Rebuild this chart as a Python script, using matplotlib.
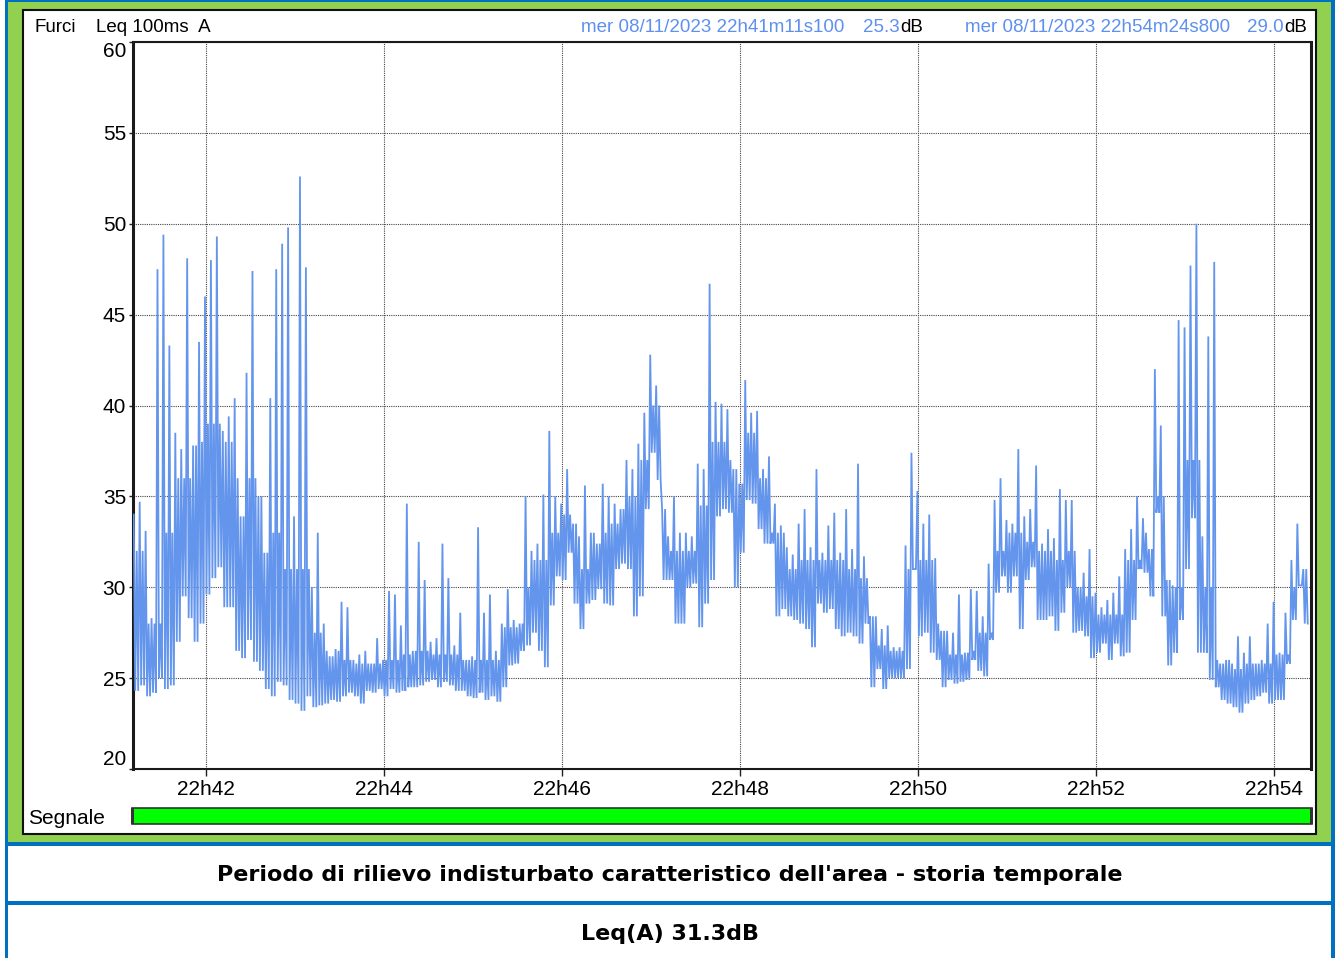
import matplotlib
matplotlib.use("Agg")
import matplotlib.pyplot as plt
from matplotlib.patches import Rectangle
import numpy as np

# ---- data: 4-second envelope bins of the Leq 100ms (A) record, dB ----
bin_seconds = 4.0
start_min = 41 + 11.1 / 60          # 22h41m11s100
end_min = 54 + 24.8 / 60            # 22h54m24s800

# per-bin maximum (peaks / spikes)
lev_hi = [
    34.0, 34.7, 33.1, 28.3, 47.5, 49.4, 43.3, 38.5, 37.6, 48.1,
    37.8, 43.5, 46.0, 48.0, 49.3, 38.6, 39.4, 40.4, 33.9, 41.8,
    47.4, 35.0, 31.9, 40.4, 47.5, 48.9, 49.8, 33.9, 52.6, 47.6,
    30.0, 33.0, 28.0, 26.2, 26.6, 29.2, 28.9, 26.0, 26.3, 26.5,
    25.8, 27.2, 26.0, 29.8, 29.6, 27.9, 34.6, 26.5, 32.5, 30.4,
    27.0, 27.2, 32.4, 30.5, 26.8, 28.6, 26.0, 26.2, 33.3, 28.6,
    29.6, 26.5, 28.0, 29.9, 28.2, 28.0, 35.0, 32.0, 32.4, 35.1,
    38.6, 35.0, 34.6, 36.5, 33.5, 32.8, 35.6, 33.0, 32.4, 35.7,
    35.0, 34.6, 34.3, 37.0, 36.5, 37.9, 39.6, 42.8, 41.1, 34.3,
    32.8, 35.0, 33.0, 33.0, 32.8, 36.8, 36.5, 46.7, 40.2, 40.1,
    39.8, 36.5, 35.7, 41.4, 39.6, 39.7, 36.5, 37.2, 34.6, 33.4,
    32.2, 31.8, 33.5, 34.3, 32.2, 36.5, 31.9, 33.4, 34.1, 31.9,
    34.3, 32.1, 36.8, 31.7, 28.4, 28.4, 27.7, 27.9, 26.7, 26.7,
    32.3, 37.4, 35.3, 33.5, 34.0, 31.6, 27.6, 27.6, 27.5, 29.6,
    26.4, 29.9, 29.8, 28.4, 31.3, 34.8, 36.0, 33.7, 33.5, 37.6,
    33.9, 34.3, 36.7, 32.4, 33.2, 32.7, 35.4, 34.8, 34.8, 30.0,
    30.8, 32.1, 29.7, 28.9, 29.3, 29.7, 30.6, 32.1, 33.2, 35.0,
    33.8, 32.1, 42.0, 38.9, 30.4, 30.1, 44.7, 44.3, 47.7, 50.0,
    32.8, 43.8, 47.9, 25.8, 26.0, 25.8, 27.3, 26.4, 27.3, 25.8,
    26.0, 28.0, 29.2, 26.4, 28.6, 31.5, 33.5, 31.0,
]
# per-bin minimum
lev_lo = [
    24.3, 24.6, 24.0, 24.2, 25.0, 24.4, 24.6, 27.0, 29.5, 28.3,
    27.0, 28.0, 29.6, 30.5, 31.1, 28.9, 28.9, 26.5, 26.1, 27.1,
    25.9, 25.4, 24.4, 24.0, 24.8, 24.6, 23.8, 23.6, 23.2, 24.0,
    23.4, 23.5, 23.6, 23.8, 23.7, 24.0, 24.2, 24.0, 23.6, 24.3,
    24.2, 24.4, 24.0, 24.4, 24.2, 24.3, 24.5, 24.5, 24.6, 24.8,
    24.9, 24.5, 24.8, 24.6, 24.3, 24.3, 24.0, 23.9, 24.2, 23.8,
    24.0, 23.7, 24.5, 25.7, 25.8, 26.5, 26.8, 27.5, 26.5, 25.6,
    29.0, 30.6, 30.4, 31.9, 29.1, 27.7, 29.1, 29.3, 29.9, 29.1,
    29.0, 31.0, 31.3, 31.0, 28.4, 29.5, 34.3, 37.4, 35.9, 30.4,
    30.4, 28.0, 28.0, 30.0, 30.2, 27.8, 29.1, 30.4, 33.9, 34.3,
    34.1, 30.0, 31.9, 34.8, 34.6, 33.2, 32.4, 32.4, 28.4, 28.8,
    28.4, 28.2, 28.0, 27.7, 26.7, 29.1, 28.6, 28.8, 27.7, 27.3,
    27.5, 27.3, 26.9, 28.0, 24.5, 25.5, 24.4, 25.0, 25.0, 25.0,
    25.5, 31.0, 27.3, 27.5, 26.4, 26.0, 24.5, 24.9, 24.7, 24.8,
    24.9, 26.0, 25.4, 25.1, 27.1, 29.7, 30.6, 29.7, 30.6, 27.7,
    30.4, 31.1, 28.2, 28.2, 28.4, 27.6, 28.6, 30.0, 27.5, 27.6,
    27.3, 26.1, 26.4, 26.9, 26.0, 26.9, 26.2, 26.4, 28.2, 31.0,
    30.8, 29.5, 34.1, 28.4, 25.7, 26.4, 28.2, 31.0, 33.8, 26.4,
    26.4, 24.9, 24.5, 23.8, 23.6, 23.4, 23.1, 23.6, 23.8, 24.0,
    24.2, 23.6, 23.8, 23.8, 25.8, 28.2, 30.1, 28.0,
]
# upper edge of the dense core of the trace, one value per 10 s
band_seconds = 10.0
band_top = [
    32.0, 28.0, 33.0, 36.0, 38.0, 39.0, 38.0, 36.0, 36.0, 33.0,
    31.0, 31.0, 27.5, 26.5, 26.0, 25.8, 25.8, 26.0, 26.3, 26.5,
    26.3, 26.3, 26.0, 26.0, 26.0, 27.8, 30.0, 31.5, 33.0, 34.0,
    31.0, 33.0, 33.5, 35.0, 37.0, 40.0, 32.0, 32.0, 34.5, 38.0,
    37.0, 38.5, 36.0, 33.0, 31.0, 31.5, 31.5, 31.5, 31.0, 30.5,
    26.8, 26.5, 31.0, 31.5, 28.0, 26.3, 26.5, 27.5, 32.0, 33.0,
    32.5, 32.0, 31.5, 32.0, 29.5, 28.5, 28.5, 31.5, 33.0, 35.0,
    30.0, 37.0, 30.0, 26.0, 25.5, 25.8, 25.8, 26.3, 30.0, 31.0,
]

y_ticks = [20, 25, 30, 35, 40, 45, 50, 55, 60]
x_ticks = [42, 44, 46, 48, 50, 52, 54]
x_labels = ["22h42", "22h44", "22h46", "22h48", "22h50", "22h52", "22h54"]

header_left = "Furci"
header_param = "Leq 100ms  A"
cursor1_time, cursor1_val = "mer 08/11/2023 22h41m11s100", "25.3"
cursor2_time, cursor2_val = "mer 08/11/2023 22h54m24s800", "29.0"
caption = "Periodo di rilievo indisturbato caratteristico dell'area - storia temporale"
leq_text = "Leq(A) 31.3dB"

# ---- colours / fonts ----
TRACE = "#6495ED"
HEADER_BLUE = "#5E90EE"
FRAME_BLUE = "#0070C0"
PANEL_GREEN = "#92D050"
BAR_GREEN = "#00FF00"
SANS = ["Liberation Sans", "DejaVu Sans"]
TITLE_FONT = ["DejaVu Sans"]

W, H = 1338, 958
fig = plt.figure(figsize=(W / 100, H / 100), dpi=100)
fig.patch.set_facecolor("white")


def fx(x):
    return x / W


def fy(y):
    return 1 - y / H


def rect(x0, y0, x1, y1, **kw):
    r = Rectangle((fx(x0), fy(y1)), fx(x1) - fx(x0), fy(y0) - fy(y1),
                  transform=fig.transFigure, **kw)
    fig.add_artist(r)
    return r


# frame: green panel, blue borders, white boxes
rect(5, 0, 1335, 960, facecolor=FRAME_BLUE, edgecolor="none", zorder=-3)
rect(8, 2, 1331, 842, facecolor=PANEL_GREEN, edgecolor="none", zorder=-2.9)
rect(8, 846, 1331, 901, facecolor="white", edgecolor="none", zorder=-2.9)
rect(8, 905, 1331, 960, facecolor="white", edgecolor="none", zorder=-2.9)
rect(23, 10, 1316, 834, facecolor="white", edgecolor="#111111",
     linewidth=1.5, zorder=-2.8)

# ---- plot area ----
ax = fig.add_axes([fx(133), fy(769), fx(1311) - fx(133), fy(42) - fy(769)])
ax.set_zorder(2)
ax.set_facecolor("white")

# each bin: peak, minimum, then the core level and minimum again
n = len(lev_hi)
t_list, v_list = [], []
for i in range(n):
    hi, lo = lev_hi[i], lev_lo[i]
    for k in range(4):
        ts = i * bin_seconds + 0.5 + k
        core = max(min(band_top[min(int(ts // band_seconds), len(band_top) - 1)], hi), lo)
        v = (hi, lo, core, lo)[k]
        t_list.append(start_min + ts / 60.0)
        v_list.append(v)
ax.plot(t_list, v_list, color=TRACE, linewidth=1.3, solid_joinstyle="miter",
        zorder=3)

ax.set_xlim(start_min, end_min)
ax.set_ylim(20, 60)
ax.set_xticks(x_ticks)
ax.set_xticklabels(x_labels, fontsize=15, family=SANS)
ax.set_yticks(y_ticks)
ax.set_yticklabels([str(v) for v in y_ticks], fontsize=15, family=SANS)
ylabels = ax.get_yticklabels()
ylabels[0].set_va("bottom")
ylabels[-1].set_va("top")
ax.tick_params(axis="x", length=5, width=1, direction="out", pad=3,
               color="#222222")
ax.tick_params(axis="y", length=3, width=1, direction="out", pad=2,
               color="#222222")
ax.grid(True, color="#444444", linestyle=(0, (1, 1)), linewidth=0.8)
ax.set_axisbelow(True)
for side, sp in ax.spines.items():
    sp.set_color("#1a1a1a")
    sp.set_linewidth(2.2 if side in ("left", "right") else 1.5)

# ---- header ----
hy = fy(27)
HFS = 13.5
fig.text(fx(35), hy, header_left, fontsize=HFS, family=SANS, va="center")
fig.text(fx(96), hy, header_param, fontsize=HFS, family=SANS, va="center")
fig.text(fx(581), hy, cursor1_time, fontsize=HFS, family=SANS, va="center",
         color=HEADER_BLUE)
fig.text(fx(900), hy, cursor1_val, fontsize=HFS, family=SANS, va="center",
         ha="right", color=HEADER_BLUE)
fig.text(fx(900), hy, "dB", fontsize=HFS, family=SANS, va="center")
fig.text(fx(965), hy, cursor2_time, fontsize=HFS, family=SANS, va="center",
         color=HEADER_BLUE)
fig.text(fx(1284), hy, cursor2_val, fontsize=HFS, family=SANS, va="center",
         ha="right", color=HEADER_BLUE)
fig.text(fx(1284), hy, "dB", fontsize=HFS, family=SANS, va="center")

# ---- signal bar ----
fig.text(fx(28), fy(818), "Segnale", fontsize=15, family=SANS, va="center")
rect(132, 808, 1312, 824, facecolor=BAR_GREEN, edgecolor="#333333",
     linewidth=1.2, zorder=1)
rect(131, 808, 134, 824, facecolor="#333333", edgecolor="none", zorder=1.1)
rect(1310, 808, 1313, 824, facecolor="#333333", edgecolor="none", zorder=1.1)

# ---- captions ----
fig.text(fx(670), fy(875), caption, fontsize=16, fontweight="bold",
         family=TITLE_FONT, ha="center", va="center")
fig.text(fx(670), fy(934), leq_text, fontsize=16, fontweight="bold",
         family=TITLE_FONT, ha="center", va="center")

fig.savefig("out.png", dpi=100, facecolor="white")
